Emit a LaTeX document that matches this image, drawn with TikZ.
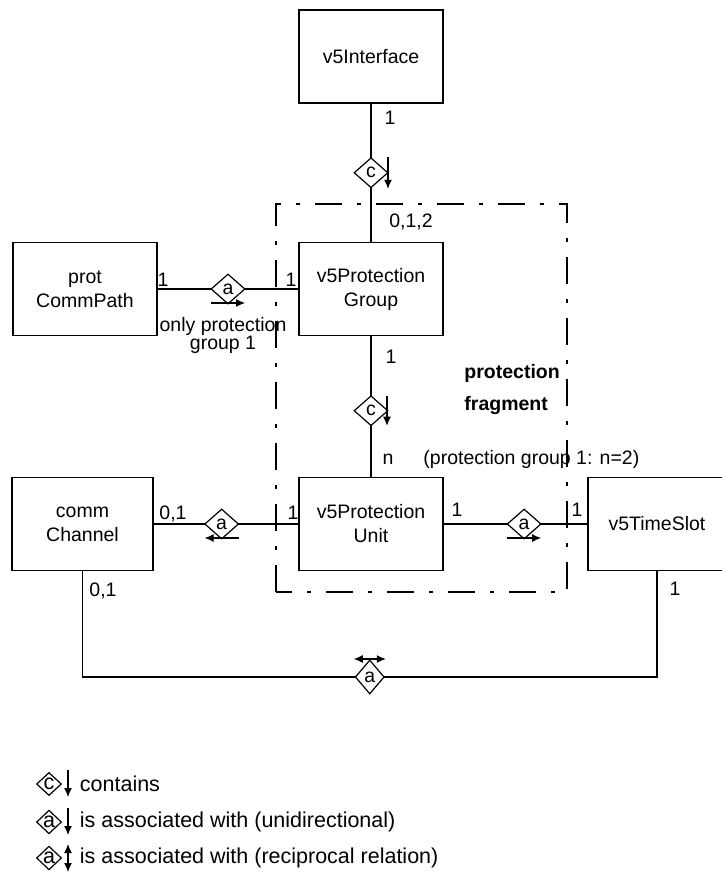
\documentclass[tikz,border=0pt]{standalone}
\usepackage{fontspec}
\setmainfont{Liberation Sans}
\usetikzlibrary{arrows.meta,shapes,positioning}

\begin{document}
\begin{tikzpicture}[x=1pt,y=-1pt,line width=1.2pt,
        font=\fontsize{19.5}{24}\selectfont,
        >={Latex[length=9pt,width=8pt]},
        cls/.style={draw, minimum width=144pt, minimum height=93pt, align=center, inner sep=2pt},
        rel/.style={draw, diamond, fill=white, inner sep=0pt, minimum width=34pt, minimum height=30pt},
        keyrel/.style={rel, font=\fontsize{21.5}{24}\selectfont, minimum width=25pt, minimum height=23pt},
        keytext/.style={anchor=west, font=\fontsize{21.5}{24}\selectfont},
        fragframe/.style={dash pattern=on 27pt off 15pt on 4pt off 15pt}]
        \useasboundingbox (0,0) rectangle (721,879);

        % protection fragment
        \draw[fragframe] (276,592) -- (276,204) -- (567,204) -- (567,592) -- cycle;

        \node[cls] (iface) at (371,56.5) {v5Interface};
        \node[cls] (pgroup) at (371,289) {v5Protection\\Group};
        \node[cls] (prot) at (85,289) {prot\\CommPath};
        \node[cls] (punit) at (371,524) {v5Protection\\Unit};
        \node[cls, minimum width=141pt] (chan) at (82.5,524) {comm\\Channel};
        \node[cls, minimum width=138pt] (tslot) at (657,524) {v5TimeSlot};

        \draw (iface) -- node[rel] (dc1) {c} (pgroup);
        \draw (prot) -- node[rel] (da1) {a} (pgroup);
        \draw (pgroup) -- node[rel, pos=0.53] (dc2) {c} (punit);
        \draw (chan) -- node[rel, pos=0.47] (da2) {a} (punit);
        \draw (punit) -- node[rel, pos=0.56] (da3) {a} (tslot);
        \coordinate (lowline) at (0,677);
        \draw (chan.south) |- node[rel, pos=0.75, minimum width=29pt, minimum height=34pt] (da4) {a} (tslot.south |- lowline) -- (tslot.south);

        \draw[->] ([shift={(17,-16)}]dc1.center) -- ++(0,32);
        \draw[->] ([shift={(16,-15)}]dc2.center) -- ++(0,30);
        \draw[->] ([shift={(-17,14)}]da1.center) -- ++(34,0);
        \draw[->] ([shift={(17,14)}]da2.center) -- ++(-34,0);
        \draw[->] ([shift={(-17,14)}]da3.center) -- ++(34,0);
        \draw[<->] ([shift={(-16,-18)}]da4.center) -- ++(32,0);

        % multiplicities
        \node (m1) at (390,118) {1};
        \node (m2) at (411,222) {0,1,2};
        \node (m3) at (163,280) {1};
        \node (m4) at (291,280) {1};
        \node[align=center, anchor=north, font=\fontsize{19.5}{17}\selectfont] (note1) at (223,313) {only protection\\group 1};
        \node (m5) at (391,357) {1};
        \node[align=left, anchor=west, font=\bfseries\fontsize{19.5}{32}\selectfont] (frag) at (460.5,389) {protection\\fragment};
        \node (m6) at (388,459) {n};
        \node[anchor=west] (note2) at (419.5,459) {(protection group 1: n=2)};
        \node (m7) at (173,514) {0,1};
        \node (m8) at (293,513) {1};
        \node (m9) at (457,510) {1};
        \node (m10) at (577,510) {1};
        \node (m11) at (103,591) {0,1};
        \node (m12) at (675,589) {1};

        % legend
        \node[keyrel] (kc) at (49,784) {c};
        \node[keyrel] (ka) at (49,822) {a};
        \node[keyrel] (kr) at (49,858) {a};
        \draw[->] ([shift={(19,-14)}]kc.center) -- ++(0,27);
        \draw[->] ([shift={(19,-14)}]ka.center) -- ++(0,27);
        \draw[<->] ([shift={(19,-14)}]kr.center) -- ++(0,28);
        \node[keytext] (kct) at (76,784) {contains};
        \node[keytext] (kat) at (76,822) {is associated with (unidirectional)};
        \node[keytext] (krt) at (76,858) {is associated with (reciprocal relation)};
\end{tikzpicture}
\end{document}
